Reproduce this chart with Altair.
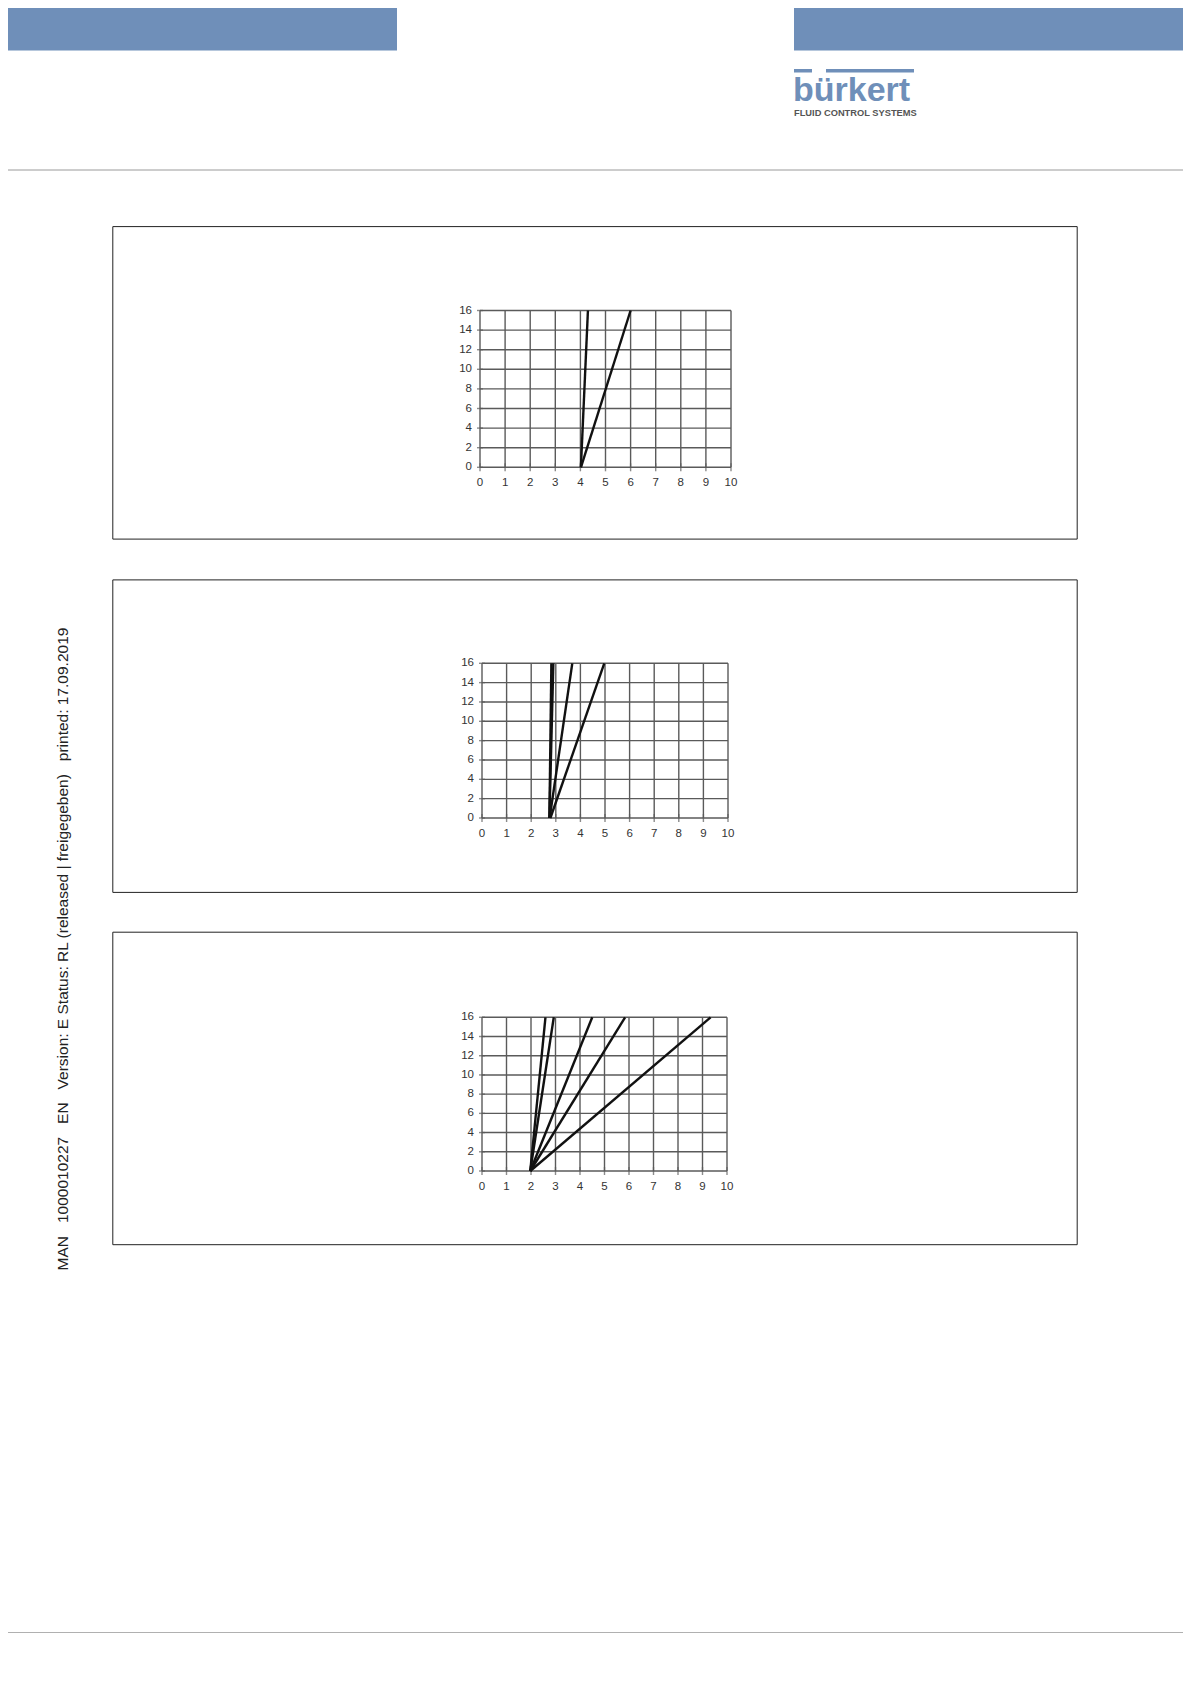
import altair as alt
import pandas as pd

# ---------------- data ----------------
X_TICKS = [0, 1, 2, 3, 4, 5, 6, 7, 8, 9, 10]
Y_TICKS = [0, 2, 4, 6, 8, 10, 12, 14, 16]

# each characteristic line runs from (start, 0) to (end, 16)
P1_START = [4.02, 4.02]
P1_END = [4.30, 6.00]

P2_START = [2.74, 2.74, 2.75, 2.78]
P2_END = [2.82, 2.90, 3.67, 4.97]

P3_START = [1.97, 1.97, 1.97, 1.97, 1.97]
P3_END = [2.59, 2.93, 4.50, 5.84, 9.33]

GAP = "\u00a0\u00a0\u00a0"
SIDE_TEXT = ("MAN" + GAP + "1000010227" + GAP + "EN" + GAP + "Version: E Status: RL "
             "(released | freigegeben)" + GAP + "printed: 17.09.2019")
LOGO = "bürkert"
LOGO_SUB = "FLUID CONTROL SYSTEMS"

# ---------------- styles ----------------
FONT = "Liberation Sans"
BLUE = "#6f8fb9"
GRID = "#5a5a5a"
LABEL = "#333333"
LINE = "#111111"

W, H = 1175, 1640
ONE = pd.DataFrame({"a": [1]})


def plot(starts, ends, xr, yr):
    xs = alt.Scale(domain=[X_TICKS[0], X_TICKS[-1]], range=xr, nice=False, zero=False)
    ys = alt.Scale(domain=[Y_TICKS[0], Y_TICKS[-1]], range=yr, nice=False, zero=False)
    xt = pd.DataFrame({"t": X_TICKS, "y0": Y_TICKS[0], "y1": Y_TICKS[-1],
                       "lab": [str(v) for v in X_TICKS]})
    yt = pd.DataFrame({"t": Y_TICKS, "x0": X_TICKS[0], "x1": X_TICKS[-1],
                       "lab": [str(v) for v in Y_TICKS]})
    rows = []
    for i, (s, e) in enumerate(zip(starts, ends)):
        rows.append({"line": i, "x": s, "y": Y_TICKS[0]})
        rows.append({"line": i, "x": e, "y": Y_TICKS[-1]})
    lines = pd.DataFrame(rows)

    vgrid = alt.Chart(xt).mark_rule(color=GRID, strokeWidth=1.4).encode(
        x=alt.X("t:Q", scale=xs, axis=None),
        y=alt.Y("y0:Q", scale=ys, axis=None), y2="y1:Q")
    hgrid = alt.Chart(yt).mark_rule(color=GRID, strokeWidth=1.4).encode(
        y=alt.Y("t:Q", scale=ys, axis=None),
        x=alt.X("x0:Q", scale=xs, axis=None), x2="x1:Q")
    xtick = alt.Chart(xt).mark_tick(orient="vertical", size=8, thickness=1.4, color=GRID).encode(
        x=alt.X("t:Q", scale=xs, axis=None), y=alt.Y("y0:Q", scale=ys, axis=None))
    ytick = alt.Chart(yt).mark_tick(orient="horizontal", size=6, thickness=1.4, color=GRID).encode(
        y=alt.Y("t:Q", scale=ys, axis=None), x=alt.X("x0:Q", scale=xs, axis=None))
    xlab = alt.Chart(xt).mark_text(dy=16, fontSize=11.5, font=FONT, color=LABEL,
                                   align="center", baseline="middle").encode(
        x=alt.X("t:Q", scale=xs, axis=None), y=alt.Y("y0:Q", scale=ys, axis=None), text="lab:N")
    ylab = alt.Chart(yt).mark_text(dx=-8, fontSize=11.5, font=FONT, color=LABEL,
                                   align="right", baseline="middle").encode(
        y=alt.Y("t:Q", scale=ys, axis=None), x=alt.X("x0:Q", scale=xs, axis=None), text="lab:N")
    ln = alt.Chart(lines).mark_line(color=LINE, strokeWidth=2.4).encode(
        x=alt.X("x:Q", scale=xs, axis=None), y=alt.Y("y:Q", scale=ys, axis=None),
        detail="line:N")
    return alt.layer(vgrid, hgrid, xtick, ytick, xlab, ylab, ln)


def rect(x, x2, y, y2, **kw):
    return alt.Chart(ONE).mark_rect(**kw).encode(
        x=alt.value(x), x2=alt.value(x2), y=alt.value(y), y2=alt.value(y2))


def hrule(x, x2, y, **kw):
    return alt.Chart(ONE).mark_rule(**kw).encode(
        x=alt.value(x), x2=alt.value(x2), y=alt.value(y))


def text(s, x, y, **kw):
    return alt.Chart(ONE).mark_text(**kw).encode(
        x=alt.value(x), y=alt.value(y), text=alt.value(s))


decor = [
    rect(0, 389, 0, 42.5, color=BLUE),
    rect(786, W, 0, 42.5, color=BLUE),
    rect(786, 804, 61, 64.5, color=BLUE),
    rect(818, 906, 61, 64.5, color=BLUE),
    text(LOGO, 785, 92.5, font=FONT, fontSize=34, fontWeight="bold", color=BLUE,
         align="left", baseline="alphabetic"),
    text(LOGO_SUB, 786, 104.5, font=FONT, fontSize=9.3, fontWeight="bold", color="#555555",
         align="left", baseline="middle"),
    hrule(0, W, 162, color="#9a9a9a", strokeWidth=1),
    hrule(0, W, 1624.5, color="#b0b0b0", strokeWidth=1),
    text(SIDE_TEXT, 54.5, 941, font=FONT, fontSize=15.5, color="#222222", angle=270,
         align="center", baseline="middle"),
    rect(104.8, 1069.2, 218.6, 531.1, filled=False, stroke="#222222", strokeWidth=1),
    rect(104.8, 1069.2, 571.9, 884.4, filled=False, stroke="#222222", strokeWidth=1),
    rect(104.8, 1069.2, 924.2, 1236.7, filled=False, stroke="#222222", strokeWidth=1),
]

p1 = plot(P1_START, P1_END, [472, 723], [459.3, 302.5])
p2 = plot(P2_START, P2_END, [474, 720], [810, 655.3])
p3 = plot(P3_START, P3_END, [474, 719], [1163, 1009.3])

chart = alt.layer(*decor, p1, p2, p3).resolve_scale(
    x="independent", y="independent"
).properties(
    width=W, height=H, padding=0, autosize=alt.AutoSizeParams(type="none")
).configure_view(stroke=None)

chart.save("out.html", embed_options={"renderer": "svg", "actions": False})
